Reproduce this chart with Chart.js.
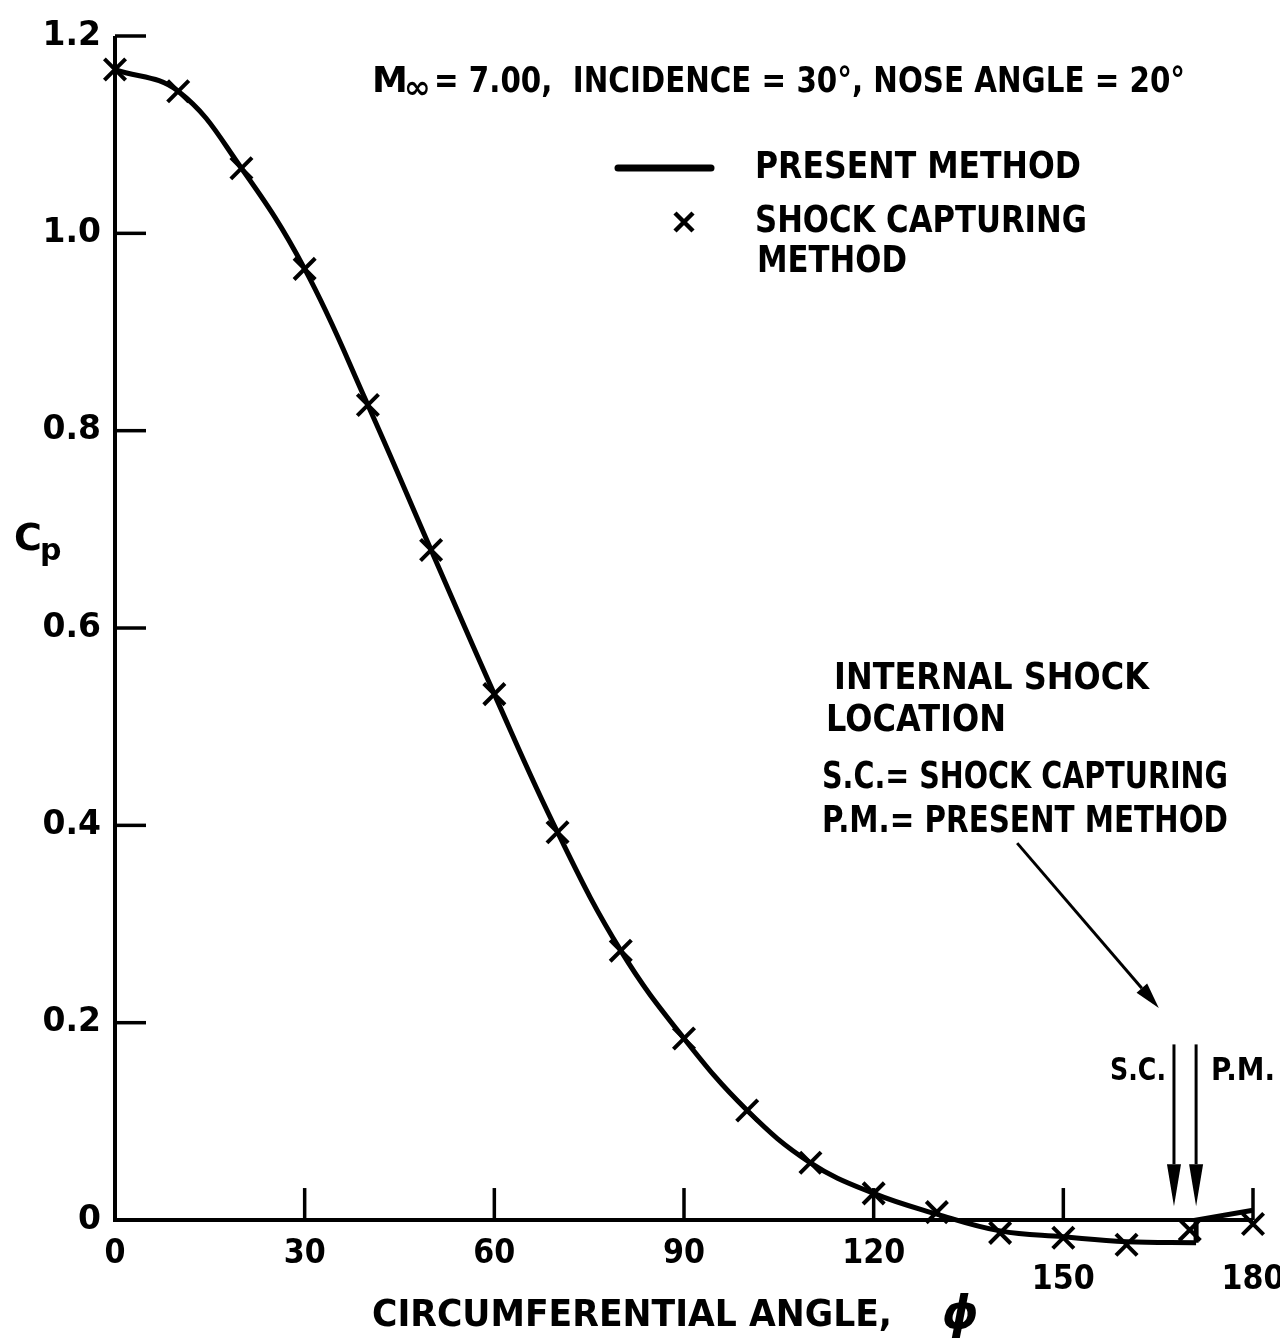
<!DOCTYPE html>
<html lang="en">
<head>
<meta charset="UTF-8">
<title>Cp vs circumferential angle</title>
<script src="https://cdn.jsdelivr.net/npm/chart.js"></script>
<style>
  html, body { margin: 0; padding: 0; background: #fff; }
</style>
</head>
<body>
<canvas id="cpChart" width="1280" height="1342"></canvas>
<script>
// shock capturing method (x markers)
const scAngles = [0, 10, 20, 30, 40, 50, 60, 70, 80, 90, 100, 110, 120, 130, 140, 150, 160, 170, 180];
const scCp = [1.166, 1.144, 1.066, 0.964, 0.826, 0.679, 0.533, 0.393, 0.273, 0.184, 0.111, 0.058, 0.027, 0.008, -0.013, -0.018, -0.025, -0.010, -0.004];

// present method (solid line) up to the internal shock
const pmAngles = [0, 10, 20, 30, 40, 50, 60, 70, 80, 90, 100, 110, 120, 130, 140, 150, 160, 171];
const pmCp = [1.166, 1.144, 1.066, 0.964, 0.826, 0.679, 0.533, 0.393, 0.273, 0.184, 0.111, 0.058, 0.027, 0.006, -0.011, -0.017, -0.022, -0.023];
// jump across the shock and on to 180
const pmShockAngles = [171, 171, 180];
const pmShockCp = [-0.023, 0, 0.010];

const xTicks = [0, 30, 60, 90, 120, 150, 180];
const yTicks = [0, 0.2, 0.4, 0.6, 0.8, 1.0, 1.2];

// internal shock locations
const shockSC = 167.5;
const shockPM = 171;

const FONT = '"DejaVu Sans", sans-serif';

function toXY(xs, ys) {
    return xs.map((v, i) => ({ x: v, y: ys[i] }));
}

function text(ctx, str, x, y, size, maxW) {
    ctx.font = 'bold ' + size + 'px ' + FONT;
    if (maxW) ctx.fillText(str, x, y, maxW);
    else ctx.fillText(str, x, y);
}

function arrow(ctx, x1, y1, x2, y2, len, half) {
    const a = Math.atan2(y2 - y1, x2 - x1);
    const bx = x2 - len * Math.cos(a), by = y2 - len * Math.sin(a);
    ctx.beginPath();
    ctx.moveTo(x1, y1);
    ctx.lineTo(bx, by);
    ctx.stroke();
    ctx.beginPath();
    ctx.moveTo(x2, y2);
    ctx.lineTo(bx + half * Math.sin(a), by - half * Math.cos(a));
    ctx.lineTo(bx - half * Math.sin(a), by + half * Math.cos(a));
    ctx.closePath();
    ctx.fill();
}

const decor = {
    id: 'decor',
    afterDraw(chart) {
        const { ctx, scales: { x, y } } = chart;
        const px = v => x.getPixelForValue(v);
        const py = v => y.getPixelForValue(v);
        ctx.save();
        ctx.strokeStyle = '#000';
        ctx.fillStyle = '#000';

        // axes
        ctx.lineWidth = 4;
        ctx.beginPath();
        ctx.moveTo(px(0), py(1.2));
        ctx.lineTo(px(0), py(0));
        ctx.lineTo(px(180), py(0));
        ctx.stroke();

        // inward tick marks
        ctx.lineWidth = 3.5;
        yTicks.forEach(v => {
            if (v === 0) return;
            ctx.beginPath();
            ctx.moveTo(px(0), py(v));
            ctx.lineTo(px(0) + 31, py(v));
            ctx.stroke();
        });
        xTicks.forEach(v => {
            if (v === 0) return;
            ctx.beginPath();
            ctx.moveTo(px(v), py(0));
            ctx.lineTo(px(v), py(0) - 32);
            ctx.stroke();
        });

        // x tick labels (150 and 180 sit lower, under the curve)
        ctx.textAlign = 'center';
        ctx.textBaseline = 'middle';
        xTicks.forEach(v => text(ctx, String(v), px(v), py(0) + (v >= 150 ? 60 : 34), 33, String(v).length * 21));

        // axis titles
        ctx.textAlign = 'left';
        ctx.textBaseline = 'alphabetic';
        text(ctx, 'CIRCUMFERENTIAL ANGLE,', 372, 1326, 38, 520);
        ctx.font = 'italic bold 46px ' + FONT;
        ctx.fillText('\u03d5', 942, 1328);
        text(ctx, 'C', 14, 550, 38);
        text(ctx, 'p', 40, 560, 30);

        // heading
        text(ctx, 'M', 372, 92, 36);
        text(ctx, '\u221e', 404, 98, 32, 28);
        text(ctx, '= 7.00,  INCIDENCE = 30\u00b0, NOSE ANGLE = 20\u00b0', 434, 92, 36, 751);

        // legend
        ctx.lineWidth = 7;
        ctx.lineCap = 'round';
        ctx.beginPath();
        ctx.moveTo(618, 168);
        ctx.lineTo(711, 168);
        ctx.stroke();
        ctx.lineCap = 'butt';
        ctx.lineWidth = 4.5;
        ctx.beginPath();
        ctx.moveTo(675, 213); ctx.lineTo(693, 231);
        ctx.moveTo(693, 213); ctx.lineTo(675, 231);
        ctx.stroke();
        text(ctx, 'PRESENT METHOD', 755, 178, 37, 326);
        text(ctx, 'SHOCK CAPTURING', 755, 232, 37, 332);
        text(ctx, 'METHOD', 757, 272, 37, 150);

        // internal shock note
        text(ctx, 'INTERNAL SHOCK', 834, 689, 37, 315);
        text(ctx, 'LOCATION', 826, 731, 37, 180);
        text(ctx, 'S.C.= SHOCK CAPTURING', 822, 788, 37, 406);
        text(ctx, 'P.M.= PRESENT METHOD', 822, 832, 37, 406);
        text(ctx, 'S.C.', 1110, 1080, 32, 56);
        text(ctx, 'P.M.', 1211, 1080, 32, 64);

        // arrows
        ctx.lineWidth = 3;
        arrow(ctx, px(142.7), py(0.382), px(165.1), py(0.215), 26, 7);
        arrow(ctx, px(shockSC), py(0.178), px(shockSC), py(0.014), 42, 7);
        arrow(ctx, px(shockPM), py(0.178), px(shockPM), py(0.014), 42, 7);

        ctx.restore();
    }
};

new Chart(document.getElementById('cpChart'), {
    type: 'scatter',
    data: {
        datasets: [
            {
                label: 'PRESENT METHOD',
                data: toXY(pmAngles, pmCp),
                showLine: true,
                borderColor: '#000',
                borderWidth: 5,
                pointRadius: 0,
                tension: 0.4,
                clip: false
            },
            {
                label: 'PRESENT METHOD (shock)',
                data: toXY(pmShockAngles, pmShockCp),
                showLine: true,
                borderColor: '#000',
                borderWidth: 5,
                pointRadius: 0,
                tension: 0,
                clip: false
            },
            {
                label: 'SHOCK CAPTURING METHOD',
                data: toXY(scAngles, scCp),
                pointStyle: 'crossRot',
                pointRadius: 15,
                pointBorderWidth: 4,
                pointBorderColor: '#000',
                showLine: false,
                clip: false
            }
        ]
    },
    options: {
        responsive: false,
        animation: false,
        layout: { padding: { top: 36, right: 27, bottom: 82.5, left: 0 } },
        plugins: { legend: { display: false }, tooltip: { enabled: false } },
        scales: {
            x: { type: 'linear', min: 0, max: 180, display: false },
            y: {
                type: 'linear',
                min: -0.04,
                max: 1.2,
                afterBuildTicks: s => { s.ticks = yTicks.map(v => ({ value: v })); },
                afterFit: s => { s.width = 115; },
                grid: { display: false, drawTicks: false },
                border: { display: false },
                ticks: {
                    padding: 14,
                    color: '#000',
                    font: { family: 'DejaVu Sans', size: 33, weight: 'bold' },
                    callback: v => v === 0 ? '0' : v.toFixed(1)
                }
            }
        }
    },
    plugins: [decor]
});
</script>
</body>
</html>
